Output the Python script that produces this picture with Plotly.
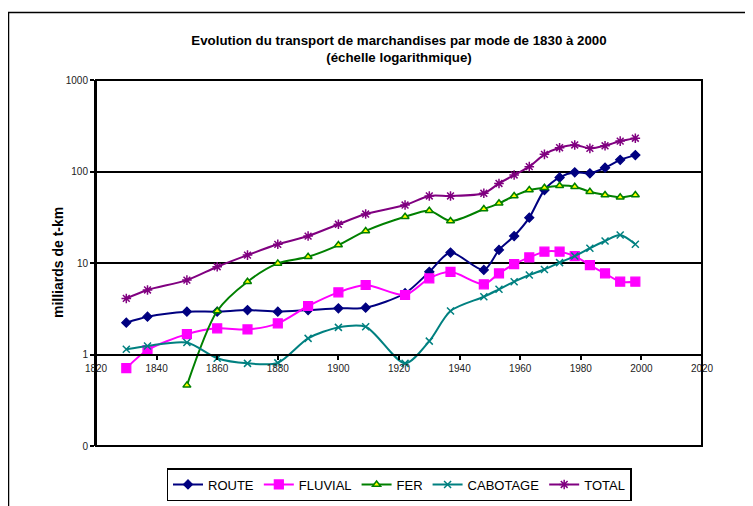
import plotly.graph_objects as go

years = [1830, 1837, 1850, 1860, 1870, 1880, 1890, 1900, 1909, 1922, 1930, 1937,
         1948, 1953, 1958, 1963, 1968, 1973, 1978, 1983, 1988, 1993, 1998]
route = [2.23, 2.59, 2.94, 2.94, 3.06, 2.94, 3.06, 3.2, 3.25, 4.67, 8.0, 13.0,
         8.4, 13.9, 19.7, 31.3, 62.8, 86, 98, 95.5, 110, 134, 151]
fluvial = [0.71, 1.12, 1.67, 1.93, 1.88, 2.19, 3.39, 4.78, 5.75, 4.47, 6.8, 8.0,
           5.85, 7.7, 9.7, 11.5, 13.3, 13.3, 11.9, 9.5, 7.7, 6.25, 6.25]
fer_years = years[2:]
fer = [0.46, 2.99, 6.25, 9.9, 11.7, 15.7, 22.4, 32, 37.3, 28.8,
       38.9, 44.9, 54, 62.8, 66.5, 70, 68.2, 60.1, 55.4, 52.2, 55.4]
cabotage = [1.14, 1.24, 1.35, 0.91, 0.80, 0.81, 1.5, 1.98, 2.01, 0.80, 1.4, 2.99,
            4.28, 5.16, 6.25, 7.4, 8.5, 10.1, 11.9, 14.5, 17.4, 20.2, 16]
total = [4.1, 5.07, 6.5, 9.1, 12.2, 16, 19.7, 26.5, 34.3, 43, 54, 54,
         57.8, 74, 91.6, 113, 154, 182, 195, 179, 191, 215, 231]

x_ticks = [1820, 1840, 1860, 1880, 1900, 1920, 1940, 1960, 1980, 2000, 2020]
y_tickvals = [0.1, 1, 10, 100, 1000]
y_ticktext = ["0", "1", "10", "100", "1000"]

FONT = "Arial, Liberation Sans, sans-serif"

fig = go.Figure()

def add(name, xs, ys, color, symbol, size, fill=None, lw=1.2):
    fig.add_trace(go.Scatter(
        x=xs, y=ys, name=name, mode="lines+markers",
        line=dict(color=color, width=2, shape="spline", smoothing=0.8),
        marker=dict(symbol=symbol, size=size, color=fill if fill else color,
                    line=dict(color=color, width=lw)),
    ))

add("ROUTE", years, route, "#000080", "diamond", 7)
add("FLUVIAL", years, fluvial, "#FF00FF", "square", 9)
add("FER", fer_years, fer, "#008000", "triangle-up", 7, fill="#FFFF00", lw=1.5)
add("CABOTAGE", years, cabotage, "#008080", "x-thin-open", 7, lw=1.5)
add("TOTAL", years, total, "#800080", "asterisk-open", 8, lw=1.5)

# page has an 8px body margin: figure coordinates = screen coordinates - 8
OFF = 8
W, H = 745, 498
L, R, T, B = 96 - OFF, 702 - OFF, 80 - OFF, 446 - OFF
pw, ph = R - L, B - T

def px(x):
    return (x - OFF - L) / pw

def py(y):
    return (B - (y - OFF)) / ph

fig.update_layout(
    width=W, height=H, autosize=False,
    margin=dict(l=L, r=W - R, t=T, b=H - B, autoexpand=False),
    paper_bgcolor="white", plot_bgcolor="white",
    font=dict(family=FONT, color="#000"),
    title=dict(
        text="<b>Evolution du transport de marchandises par mode de 1830 à 2000<br>(échelle logarithmique)</b>",
        x=0.5, xref="paper", y=1 - (45 - OFF) / H, yref="container", yanchor="middle",
        font=dict(size=13.3, family=FONT, color="#000"),
    ),
    showlegend=True,
    legend=dict(
        orientation="h", x=0.5, xanchor="center",
        y=(H - (468 - OFF)) / H, yref="container", yanchor="top",
        bordercolor="#000", borderwidth=1.5, bgcolor="white",
        font=dict(size=13, family=FONT, color="#000"),
        itemwidth=30, tracegroupgap=0,
    ),
    xaxis=dict(
        range=[1820, 2020], tickvals=x_ticks, ticktext=[str(v) for v in x_ticks],
        anchor="free", position=0.25,
        showline=True, linecolor="#000", linewidth=2,
        ticks="outside", ticklen=4, tickcolor="#000", tickwidth=1.5,
        showgrid=False, zeroline=False,
        tickfont=dict(size=10, family=FONT, color="#222"),
    ),
    yaxis=dict(
        type="log", range=[-1, 3], tickvals=y_tickvals, ticktext=y_ticktext,
        showline=True, linecolor="#000", linewidth=2,
        ticks="outside", ticklen=4, tickcolor="#000", tickwidth=1.5,
        showgrid=True, gridcolor="#000", gridwidth=1.5, zeroline=False,
        tickfont=dict(size=10, family=FONT, color="#222"),
    ),
    annotations=[dict(
        text="<b>milliards de t-km</b>", textangle=-90,
        x=px(48), y=py(263), xref="paper", yref="paper",
        showarrow=False, font=dict(size=14, family=FONT, color="#000"),
    )],
    shapes=[
        dict(type="rect", xref="paper", yref="paper", x0=0, x1=1, y0=0, y1=1,
             line=dict(color="#000", width=2), layer="above"),
        dict(type="rect", xref="paper", yref="paper",
             x0=px(8.5), x1=px(780), y0=py(540), y1=py(12.5),
             line=dict(color="#000", width=1.5)),
    ],
)

fig.write_html("out.html")
